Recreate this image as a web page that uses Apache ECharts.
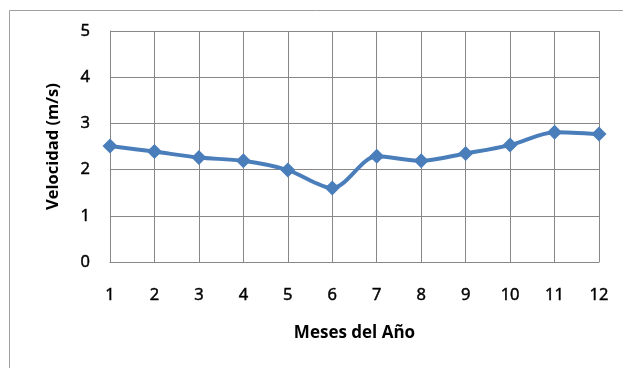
<!DOCTYPE html>
<html>
<head>
<meta charset="utf-8">
<script src="https://cdn.jsdelivr.net/npm/echarts@6/dist/echarts.min.js"></script>
<style>
  html, body { margin: 0; padding: 0; background: #ffffff; }
  #chart { width: 623px; height: 368px; }
</style>
</head>
<body>
<div id="chart"></div>
<script>
// Monthly mean wind speed
const months = [1, 2, 3, 4, 5, 6, 7, 8, 9, 10, 11, 12];
const velocidad = [2.51, 2.39, 2.26, 2.19, 1.99, 1.60, 2.29, 2.19, 2.35, 2.53, 2.81, 2.77];
const yTicks = [0, 1, 2, 3, 4, 5];

const FONT = '"Open Sans", Lato, sans-serif';
const gridColor = '#878787';

// slightly heavier than regular weight for the tick numbers
const tickLabel = {
  fontFamily: FONT, fontSize: 16.5, color: '#000',
  textBorderColor: '#000', textBorderWidth: 0.5
};

const chart = echarts.init(document.getElementById('chart'), null, { renderer: 'canvas' });
chart.setOption({
  animation: false,
  backgroundColor: '#ffffff',
  graphic: [{
    type: 'rect',
    shape: { x: 9.5, y: 10.5, width: 640, height: 400 },
    style: { fill: 'none', stroke: '#a0a0a0', lineWidth: 1 },
    silent: true
  }],
  grid: { left: 110, right: 24, top: 31, bottom: 106 },
  xAxis: {
    type: 'value',
    min: months[0],
    max: months[months.length - 1],
    interval: 1,
    name: 'Meses del Año',
    nameLocation: 'middle',
    nameGap: 63,
    nameTextStyle: { fontFamily: FONT, fontSize: 17, fontWeight: 'bold', color: '#000' },
    axisLine: { show: true, lineStyle: { color: gridColor, width: 1 } },
    axisTick: { show: false },
    splitLine: { show: true, lineStyle: { color: gridColor, width: 1 } },
    axisLabel: Object.assign({ margin: 25 }, tickLabel)
  },
  yAxis: {
    type: 'value',
    min: yTicks[0],
    max: yTicks[yTicks.length - 1],
    interval: 1,
    name: 'Velocidad (m/s)',
    nameLocation: 'middle',
    nameGap: 48,
    nameTextStyle: { fontFamily: FONT, fontSize: 16.5, fontWeight: 'bold', color: '#000' },
    axisLine: { show: true, lineStyle: { color: gridColor, width: 1 } },
    axisTick: { show: false },
    splitLine: { show: true, lineStyle: { color: gridColor, width: 1 } },
    axisLabel: Object.assign({ margin: 20 }, tickLabel)
  },
  series: [{
    type: 'line',
    data: months.map((m, i) => [m, velocidad[i]]),
    smooth: 0.3,
    symbol: 'diamond',
    symbolSize: 15,
    lineStyle: { color: '#4a7ebb', width: 4 },
    itemStyle: { color: '#4a7ebb' }
  }]
});
</script>
</body>
</html>
